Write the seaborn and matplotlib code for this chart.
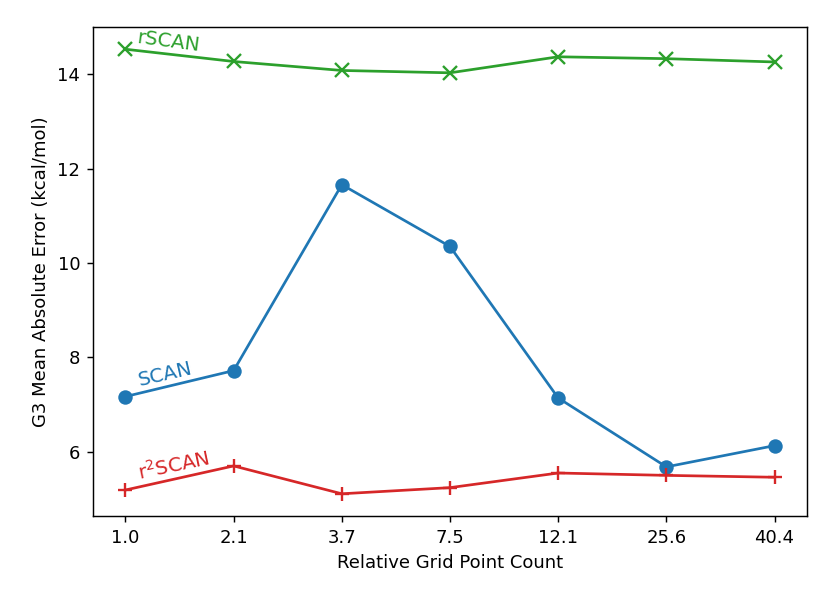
import matplotlib
matplotlib.use("Agg")
import matplotlib.pyplot as plt
import seaborn as sns
import pandas as pd

grid_counts = ["1.0", "2.1", "3.7", "7.5", "12.1", "25.6", "40.4"]
scan_mae = [7.17, 7.72, 11.66, 10.35, 7.14, 5.68, 6.13]
rscan_mae = [14.53, 14.27, 14.08, 14.03, 14.37, 14.33, 14.26]
r2scan_mae = [5.19, 5.70, 5.11, 5.24, 5.55, 5.50, 5.46]

plt.rcParams['font.family'] = ['DejaVu Sans']
plt.rcParams['font.size'] = 10

fig = plt.figure(figsize=(830 / 130, 604 / 130), dpi=130)
ax = fig.add_axes([93 / 830, 1 - 516 / 604, (807 - 93) / 830, (516 - 27) / 604])

pos = list(range(len(grid_counts)))
series = [
    ("SCAN", scan_mae, "tab:blue", "o", 8, 0),
    ("rSCAN", rscan_mae, "tab:green", "x", 8, 1.3),
    ("r$^2$SCAN", r2scan_mae, "tab:red", "+", 7.5, 1.3),
]
for name, vals, col, mk, ms, mew in series:
    df = pd.DataFrame({"x": pos, "y": vals})
    sns.lineplot(data=df, x="x", y="y", ax=ax, color=col, marker=mk,
                 markersize=ms, linewidth=1.5, markeredgewidth=mew,
                 markeredgecolor=col, sort=False)

ax.set_xticks(pos)
ax.set_xticklabels(grid_counts)
ax.set_yticks([6, 8, 10, 12, 14])
ax.set_xlabel("Relative Grid Point Count")
ax.set_ylabel("G3 Mean Absolute Error (kcal/mol)")

ax.text(0.40, 14.69, "rSCAN", color="tab:green", rotation=-7.5, ha="center",
        va="center", rotation_mode="anchor", fontsize=11)
ax.text(0.37, 7.63, "SCAN", color="tab:blue", rotation=13, ha="center",
        va="center", rotation_mode="anchor", fontsize=11)
ax.text(0.45, 5.70, "r$^2$SCAN", color="tab:red", rotation=12, ha="center",
        va="center", rotation_mode="anchor", fontsize=11)

fig.savefig("out.png", dpi=130)
